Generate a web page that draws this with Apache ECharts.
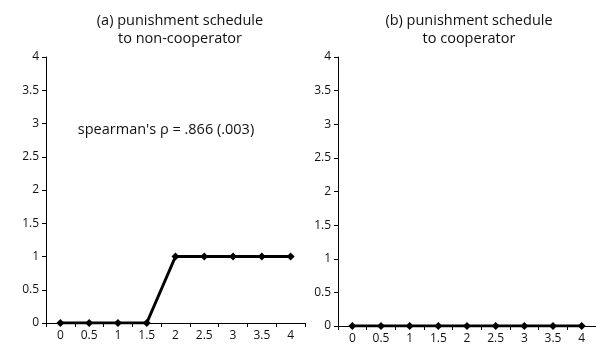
<!DOCTYPE html>
<html>
<head>
<meta charset="utf-8">
<script src="https://cdn.jsdelivr.net/npm/echarts@6/dist/echarts.min.js"></script>
<style>
  html, body { margin: 0; padding: 0; background: #fff; }
  #main { width: 596px; height: 350px; }
</style>
</head>
<body>
<div id="main"></div>
<script>
// tick labels on the x axis (punishment level)
const categories = ["0", "0.5", "1", "1.5", "2", "2.5", "3", "3.5", "4"];
// (a) punishment to non-cooperator
const nonCooperator = [0, 0, 0, 0, 1, 1, 1, 1, 1];
// (b) punishment to cooperator
const cooperator = [0, 0, 0, 0, 0, 0, 0, 0, 0];

const font = "'Open Sans', 'Noto Sans', sans-serif";
const ink = "#000";

function xAxisFor(gridIndex) {
  return {
    type: "category",
    gridIndex: gridIndex,
    data: categories,
    boundaryGap: true,
    axisLine: { lineStyle: { color: ink, width: 1 } },
    axisTick: { show: true, length: 4, lineStyle: { color: ink } },
    axisLabel: { color: "#111", fontSize: 12, fontFamily: font, margin: 7 },
    splitLine: { show: false },
  };
}

function yAxisFor(gridIndex) {
  return {
    type: "value",
    gridIndex: gridIndex,
    min: 0,
    max: 4,
    interval: 0.5,
    axisLine: { show: true, lineStyle: { color: ink, width: 1 } },
    axisTick: { show: true, length: 4, lineStyle: { color: ink } },
    axisLabel: { color: "#111", fontSize: 12, fontFamily: font, margin: 7 },
    splitLine: { show: false },
  };
}

function seriesFor(index, data) {
  return {
    type: "line",
    xAxisIndex: index,
    yAxisIndex: index,
    data: data,
    symbol: "diamond",
    symbolSize: 8,
    showAllSymbol: true,
    lineStyle: { color: ink, width: 3 },
    itemStyle: { color: ink },
    emphasis: { disabled: true },
    z: 5,
  };
}

const titleStyle = { fontSize: 14.5, fontWeight: "normal", color: "#111", fontFamily: font, lineHeight: 18 };

const chart = echarts.init(document.getElementById("main"));
chart.setOption({
  animation: false,
  backgroundColor: "#fff",
  title: [
    {
      text: "(a) punishment schedule\nto non-cooperator",
      left: 175,
      top: 7,
      textAlign: "center",
      textStyle: titleStyle,
    },
    {
      text: "(b) punishment schedule\nto cooperator",
      left: 464,
      top: 7,
      textAlign: "center",
      textStyle: titleStyle,
    },
    {
      text: "spearman's ρ = .866 (.003)",
      left: 161,
      top: 117,
      textAlign: "center",
      textStyle: { fontSize: 14.5, fontWeight: "normal", color: "#111", fontFamily: font },
    },
  ],
  grid: [
    { left: 46, top: 57, width: 259, height: 266 },
    { left: 338, top: 57, width: 258, height: 269 },
  ],
  xAxis: [xAxisFor(0), xAxisFor(1)],
  yAxis: [yAxisFor(0), yAxisFor(1)],
  series: [seriesFor(0, nonCooperator), seriesFor(1, cooperator)],
});
</script>
</body>
</html>
